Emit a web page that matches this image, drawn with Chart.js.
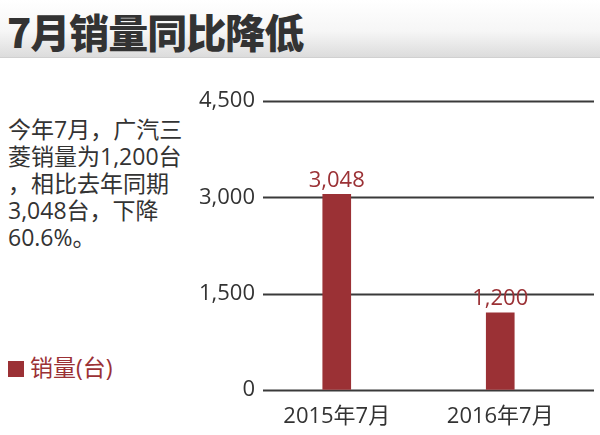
<!DOCTYPE html>
<html>
<head>
<meta charset="utf-8">
<script src="https://cdn.jsdelivr.net/npm/chart.js@4"></script>
<style>
  html, body { margin: 0; padding: 0; background: #fff; }
  body { width: 600px; height: 435px; position: relative; overflow: hidden;
         font-family: "Open Sans", "Noto Sans CJK SC", sans-serif; color: #333; }
  #title { position: absolute; left: 0; top: 0; width: 600px; height: 57px;
           background: linear-gradient(to bottom, #ffffff 0%, #f6f6f6 55%, #dcdcdc 100%);
           border-bottom: 1px solid #d0d0d0; }
  #title span { position: absolute; left: 7px; top: 2px; font-size: 40px; font-weight: 900;
                font-family: "Noto Sans CJK SC", sans-serif; color: #333; letter-spacing: -1px; }
  #note { position: absolute; left: 8px; top: 116px; width: 195px; font-size: 23px; line-height: 27px; }
  #legend { position: absolute; left: 8px; top: 349px; font-size: 23px; color: #9b3135; }
  #legend i { display: inline-block; width: 16px; height: 16px; margin-right: 6px; vertical-align: -1px; }
  #wrap { position: absolute; left: 0; top: 0; width: 600px; height: 435px; }
</style>
</head>
<body>
<div id="title"><span>7月销量同比降低</span></div>
<div id="note">今年7月，广汽三<br>菱销量为1,200台<br>，相比去年同期<br>3,048台，下降<br>60.6%。</div>
<div id="legend"></div>
<div id="wrap"><canvas id="myChart"></canvas></div>
<script>
const categories = ['2015年7月', '2016年7月'];
const sales = [3048, 1200];
const seriesName = '销量(台)';
const yTicks = [0, 1500, 3000, 4500];
const barColor = '#9b3135';

const fontFamily = '"Open Sans", "Noto Sans CJK SC", sans-serif';

// horizontal lines run wider than the plot, like the original
const gridLines = {
    id: 'gridLines',
    beforeDatasetsDraw(chart) {
        const ctx = chart.ctx;
        const y = chart.scales.y;
        ctx.save();
        ctx.strokeStyle = '#3a3a3a';
        ctx.lineWidth = 1.8;
        yTicks.forEach(v => {
            const py = Math.round(y.getPixelForValue(v)) + 0.5;
            ctx.beginPath();
            ctx.moveTo(263, py);
            ctx.lineTo(594, py);
            ctx.stroke();
        });
        ctx.restore();
    }
};

const valueLabels = {
    id: 'valueLabels',
    afterDatasetsDraw(chart) {
        const ctx = chart.ctx;
        ctx.save();
        ctx.font = '22px ' + fontFamily;
        ctx.fillStyle = barColor;
        ctx.textAlign = 'center';
        ctx.textBaseline = 'bottom';
        chart.getDatasetMeta(0).data.forEach((bar, i) => {
            ctx.fillText(sales[i].toLocaleString('en-US'), bar.x, bar.y - 3);
        });
        ctx.restore();
    }
};

const canvasContext = document.getElementById('myChart').getContext('2d');

const myChart = new Chart(canvasContext, {
    type: 'bar',
    data: {
        labels: categories,
        datasets: [
            {
                label: seriesName,
                data: sales,
                backgroundColor: barColor,
                barThickness: 28,
            }
        ],
    },
    options: {
        responsive: true,
        maintainAspectRatio: false,
        animation: false,
        layout: { padding: { left: 0, top: 101, right: 18, bottom: 0 } },
        plugins: {
            legend: { display: false },
            tooltip: { enabled: false },
        },
        scales: {
            x: {
                grid: { display: false, drawTicks: false },
                border: { display: false },
                ticks: { color: '#333', font: { size: 22, family: fontFamily }, padding: 14 },
                afterFit: (s) => { s.height = 45; },
            },
            y: {
                min: 0,
                max: 4500,
                afterBuildTicks: (s) => { s.ticks = yTicks.map(v => ({ value: v })); },
                grid: { drawOnChartArea: false, drawTicks: false },
                border: { display: false },
                ticks: {
                    color: '#333',
                    font: { size: 22, family: fontFamily },
                    padding: 0,
                    callback: (v) => v.toLocaleString('en-US'),
                },
                afterFit: (s) => { s.width = 255; },
            }
        }
    },
    plugins: [gridLines, valueLabels]
});

document.getElementById('legend').innerHTML =
    '<i style="background:' + barColor + '"></i>' + seriesName;
</script>
</body>
</html>
